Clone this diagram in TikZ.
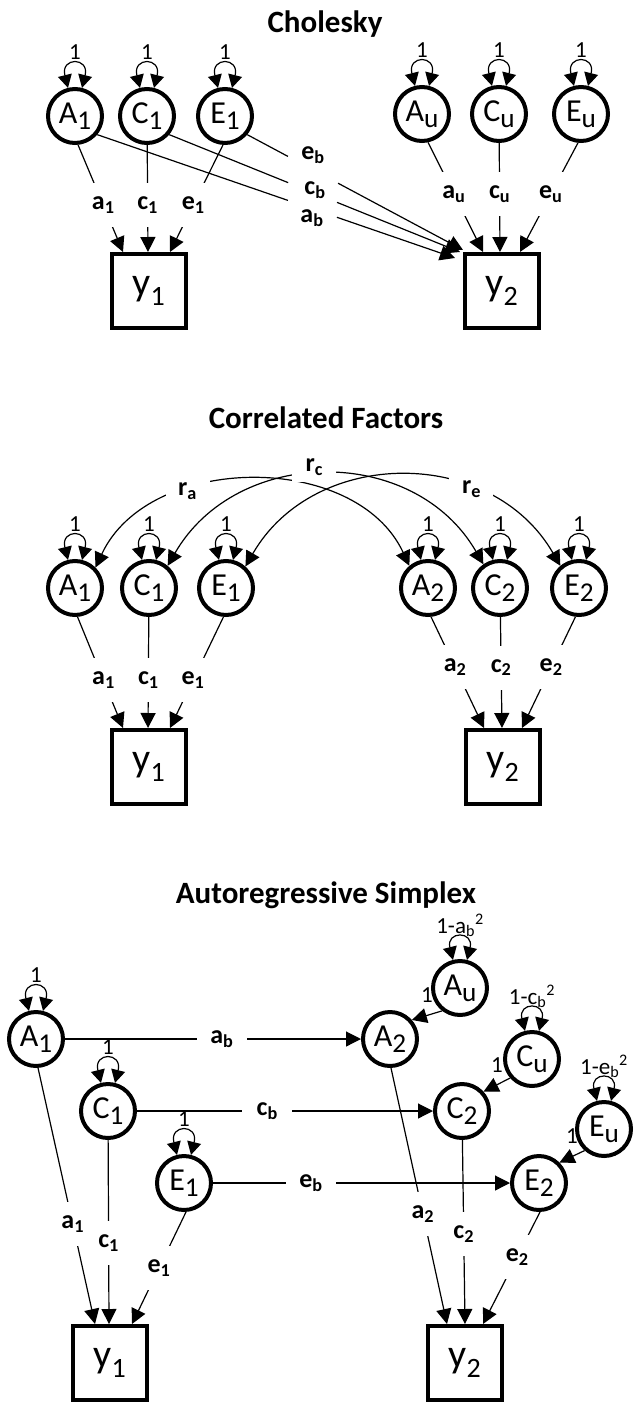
\documentclass[tikz,border=0pt]{standalone}
\usepackage{fontspec}
\setmainfont{Carlito}
\usepackage{tikz}
\usetikzlibrary{arrows.meta}
\newcommand{\csub}[1]{\raisebox{-0.18em}{\scalebox{0.85}{#1}}}
\tikzstyle{latent} = [circle, draw, line width=4pt, minimum size=54pt, inner sep=0pt, font=\fontsize{32}{33}\selectfont]
\tikzstyle{observed} = [rectangle, draw, line width=4pt, minimum size=74pt, inner sep=0pt, font=\fontsize{40}{40}\selectfont]
\tikzstyle{heading} = [anchor=base, font=\bfseries\fontsize{31}{32}\selectfont]
\tikzstyle{coef} = [fill=white, inner sep=2pt, font=\bfseries\fontsize{26}{26}\selectfont]
\tikzstyle{vcoef} = [coef, minimum height=44pt]
\tikzstyle{hcoef} = [coef, minimum width=50pt]
\tikzstyle{rcoef} = [coef, minimum width=44pt, minimum height=30pt]
\tikzstyle{unitvar} = [anchor=base, yshift=5pt, inner sep=0pt, font=\fontsize{23}{23}\selectfont]
\tikzstyle{onelab} = [inner sep=0pt, font=\fontsize{23}{23}\selectfont]
\tikzstyle{link} = [line width=1.2pt]
\tikzstyle{arrow} = [line width=1.2pt, -{Triangle[length=15pt, width=15pt]}]
\tikzstyle{corr} = [line width=1.2pt, {Triangle[length=15pt, width=15pt]}-{Triangle[length=15pt, width=15pt]}]
\tikzstyle{varloop} = [line width=1.2pt, {Triangle[length=13pt, width=14pt]}-{Triangle[length=13pt, width=14pt]}]

\begin{document}
\begin{tikzpicture}[x=1pt, y=1pt]
    \useasboundingbox (0,0) rectangle (635,-1402);

    % Cholesky
    \node [heading] at (325,-33) {Cholesky};
    \node (chA1) [latent] at (75,-116) {A\csub{1}};
    \node (chC1) [latent] at (147,-116) {C\csub{1}};
    \node (chE1) [latent] at (225,-116) {E\csub{1}};
    \node (chAu) [latent] at (422,-114) {A\csub{u}};
    \node (chCu) [latent] at (499,-114) {C\csub{u}};
    \node (chEu) [latent] at (581,-114) {E\csub{u}};
    \node (chy1) [observed] at (149,-291) {y\textsubscript{1}};
    \node (chy2) [observed] at (502,-291) {y\textsubscript{2}};

    % Variances
    \draw [varloop] (chA1.104) .. controls +(104:32) and +(76:32) .. node [unitvar] {1} (chA1.76);
    \draw [varloop] (chC1.104) .. controls +(104:32) and +(76:32) .. node [unitvar] {1} (chC1.76);
    \draw [varloop] (chE1.104) .. controls +(104:32) and +(76:32) .. node [unitvar] {1} (chE1.76);
    \draw [varloop] (chAu.104) .. controls +(104:32) and +(76:32) .. node [unitvar] {1} (chAu.76);
    \draw [varloop] (chCu.104) .. controls +(104:32) and +(76:32) .. node [unitvar] {1} (chCu.76);
    \draw [varloop] (chEu.104) .. controls +(104:32) and +(76:32) .. node [unitvar] {1} (chEu.76);

    % Paths to y1 and y2
    \draw [arrow] (chA1.-84) -- node [vcoef, pos=.56] {a\textsubscript{1}} ([xshift=-26pt]chy1.north);
    \draw [arrow] (chC1) -- node [vcoef, pos=.56] {c\textsubscript{1}} ([xshift=-1pt]chy1.north);
    \draw [arrow] (chE1.-94) -- node [vcoef, pos=.56] {e\textsubscript{1}} ([xshift=21pt]chy1.north);
    \draw [arrow] (chAu.-78) -- node [vcoef, pos=.47] {a\textsubscript{u}} ([xshift=-19pt]chy2.north);
    \draw [arrow] (chCu) -- node [vcoef, pos=.47] {c\textsubscript{u}} ([xshift=-2pt]chy2.north);
    \draw [arrow] (chEu.-96) -- node [vcoef, pos=.47] {e\textsubscript{u}} ([xshift=18pt]chy2.north);

    % Cross paths
    \coordinate (chtA) at ([xshift=-8pt, yshift=-6pt]chy2.north west);
    \coordinate (chtC) at ([xshift=-3pt]chy2.north west);
    \coordinate (chtE) at ([yshift=2pt]chy2.north west);
    \path (chA1.-40) -- coordinate [pos=.533] (chab1) coordinate [pos=.67] (chab2) (chtA);
    \path (chC1.-40) -- coordinate [pos=.409] (chcb1) coordinate [pos=.577] (chcb2) (chtC);
    \path (chE1.-40) -- coordinate [pos=.189] (cheb1) coordinate [pos=.421] (cheb2) (chtE);
    \draw [link] (chA1.-40) -- (chab1);
    \draw [arrow] (chab2) -- (chtA);
    \draw [link] (chC1.-40) -- (chcb1);
    \draw [arrow] (chcb2) -- (chtC);
    \draw [link] (chE1.-40) -- (cheb1);
    \draw [arrow] (cheb2) -- (chtE);
    \node [coef, fill=none] at (312,-218) {a\textsubscript{b}};
    \node [coef, fill=none] at (315,-190) {c\textsubscript{b}};
    \node [coef, fill=none] at (313,-155) {e\textsubscript{b}};

    % Correlated Factors
    \node [heading] at (326,-428) {Correlated Factors};
    \node (cfA1) [latent] at (75,-588) {A\csub{1}};
    \node (cfC1) [latent] at (149,-588) {C\csub{1}};
    \node (cfE1) [latent] at (226,-588) {E\csub{1}};
    \node (cfA2) [latent] at (428,-588) {A\csub{2}};
    \node (cfC2) [latent] at (500,-588) {C\csub{2}};
    \node (cfE2) [latent] at (579,-588) {E\csub{2}};
    \node (cfy1) [observed] at (149,-767) {y\textsubscript{1}};
    \node (cfy2) [observed] at (503,-767) {y\textsubscript{2}};

    % Variances
    \draw [varloop] (cfA1.104) .. controls +(104:32) and +(76:32) .. node [unitvar] {1} (cfA1.76);
    \draw [varloop] (cfC1.104) .. controls +(104:32) and +(76:32) .. node [unitvar] {1} (cfC1.76);
    \draw [varloop] (cfE1.104) .. controls +(104:32) and +(76:32) .. node [unitvar] {1} (cfE1.76);
    \draw [varloop] (cfA2.104) .. controls +(104:32) and +(76:32) .. node [unitvar] {1} (cfA2.76);
    \draw [varloop] (cfC2.104) .. controls +(104:32) and +(76:32) .. node [unitvar] {1} (cfC2.76);
    \draw [varloop] (cfE2.104) .. controls +(104:32) and +(76:32) .. node [unitvar] {1} (cfE2.76);

    % Correlations
    \draw [corr] (cfA1.45) to [out=65, in=115, looseness=1.03] node [rcoef, pos=.33] {r\textsubscript{a}} (cfA2.130);
    \draw [corr] (cfC1.50) to [out=60, in=120, looseness=1.12] node [rcoef, pos=.47, yshift=8pt] {r\textsubscript{c}} (cfC2.125);
    \draw [corr] (cfE1.48) to [out=60, in=120, looseness=1.12] node [rcoef, pos=.69] {r\textsubscript{e}} (cfE2.130);

    % Paths to y1 and y2
    \draw [arrow] (cfA1.-85) -- node [vcoef, pos=.57] {a\textsubscript{1}} ([xshift=-26pt]cfy1.north);
    \draw [arrow] (cfC1) -- node [vcoef, pos=.57] {c\textsubscript{1}} ([xshift=-1pt]cfy1.north);
    \draw [arrow] (cfE1.-95) -- node [vcoef, pos=.57] {e\textsubscript{1}} ([xshift=21pt]cfy1.north);
    \draw [arrow] (cfA2.-84) -- node [vcoef, pos=.455] {a\textsubscript{2}} ([xshift=-19pt]cfy2.north);
    \draw [arrow] (cfC2) -- node [vcoef, pos=.455] {c\textsubscript{2}} ([xshift=-1pt]cfy2.north);
    \draw [arrow] (cfE2.-97) -- node [vcoef, pos=.455] {e\textsubscript{2}} ([xshift=19pt]cfy2.north);

    % Autoregressive Simplex
    \node [heading] at (326,-903) {Autoregressive Simplex};
    \node (arA1) [latent] at (36,-1039) {A\csub{1}};
    \node (arC1) [latent] at (108,-1111) {C\csub{1}};
    \node (arE1) [latent] at (184,-1183) {E\csub{1}};
    \node (arA2) [latent] at (390,-1039) {A\csub{2}};
    \node (arC2) [latent] at (462,-1111) {C\csub{2}};
    \node (arE2) [latent] at (539,-1183) {E\csub{2}};
    \node (arAu) [latent] at (460,-988) {A\csub{u}};
    \node (arCu) [latent] at (532,-1059) {C\csub{u}};
    \node (arEu) [latent] at (604,-1129) {E\csub{u}};
    \node (ary1) [observed] at (110,-1363) {y\textsubscript{1}};
    \node (ary2) [observed] at (465,-1363) {y\textsubscript{2}};

    % Variances
    \draw [varloop] (arA1.104) .. controls +(104:32) and +(76:32) .. node [unitvar] {1} (arA1.76);
    \draw [varloop] (arC1.104) .. controls +(104:32) and +(76:32) .. node [unitvar] {1} (arC1.76);
    \draw [varloop] (arE1.104) .. controls +(104:32) and +(76:32) .. node [unitvar] {1} (arE1.76);
    \draw [varloop] (arAu.104) .. controls +(104:30) and +(76:30) .. node [unitvar] {1-a\textsubscript{b}\textsuperscript{2}} (arAu.76);
    \draw [varloop] (arCu.104) .. controls +(104:30) and +(76:30) .. node [unitvar] {1-c\textsubscript{b}\textsuperscript{2}} (arCu.76);
    \draw [varloop] (arEu.104) .. controls +(104:30) and +(76:30) .. node [unitvar] {1-e\textsubscript{b}\textsuperscript{2}} (arEu.76);

    % Time 1 to time 2
    \draw [arrow] (arA1) -- node [hcoef, pos=.53] {a\textsubscript{b}} (arA2);
    \draw [arrow] (arC1) -- node [hcoef, pos=.44] {c\textsubscript{b}} (arC2);
    \draw [arrow] (arE1) -- node [hcoef, pos=.33] {e\textsubscript{b}} (arE2);
    \draw [arrow] (arAu.232) -- node [onelab, midway, above=12pt] {1} (arA2.41);
    \draw [arrow] (arCu.221) -- node [onelab, midway, above=12pt] {1} (arC2.42);
    \draw [arrow] (arEu.228) -- node [onelab, midway, above=12pt] {1} (arE2.45);

    % Paths to y1 and y2
    \draw [arrow] (arA1.-86) -- node [vcoef, pos=.61] {a\textsubscript{1}} ([xshift=-15pt]ary1.north);
    \draw [arrow] (arC1) -- node [vcoef, pos=.56] {c\textsubscript{1}} ([xshift=-1pt]ary1.north);
    \draw [arrow] (arE1.-86) -- node [vcoef, pos=.5] {e\textsubscript{1}} ([xshift=22pt]ary1.north);
    \draw [arrow] (arA2.-88) -- node [vcoef, pos=.57] {a\textsubscript{2}} ([xshift=-18pt]ary2.north);
    \draw [arrow] (arC2) -- node [vcoef, pos=.51] {c\textsubscript{2}} (ary2.north);
    \draw [arrow] (arE2.-88) -- node [vcoef, pos=.4] {e\textsubscript{2}} ([xshift=18pt]ary2.north);
\end{tikzpicture}
\end{document}
